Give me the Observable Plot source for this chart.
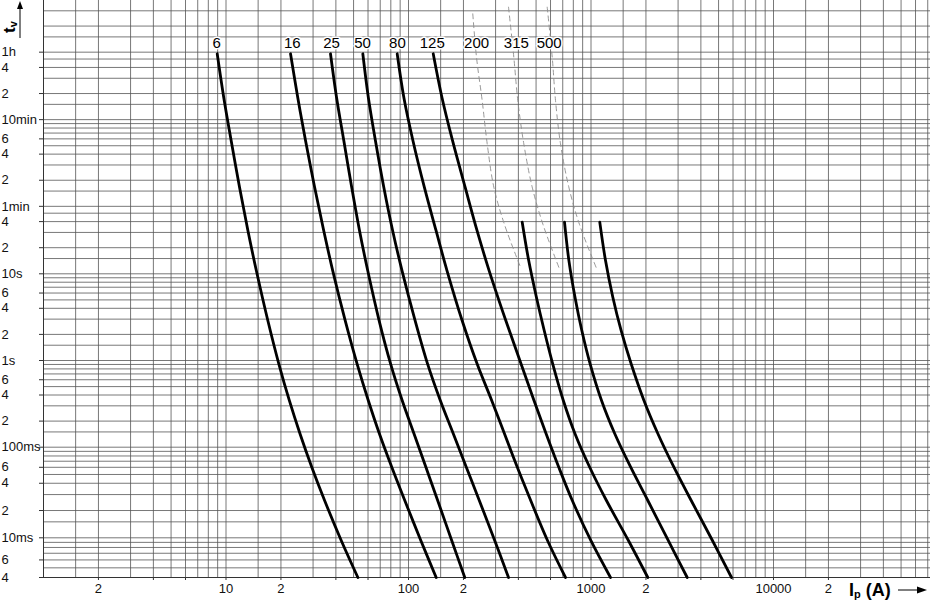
<!DOCTYPE html>
<html>
<head>
<meta charset="utf-8">
<script src="https://cdn.jsdelivr.net/npm/d3@7"></script>
<script src="https://cdn.jsdelivr.net/npm/@observablehq/plot@0.6"></script>
<style>
  html, body { margin: 0; padding: 0; background: #fff; overflow: hidden; }
  #chart svg { display: block; }
</style>
</head>
<body>
<div id="chart"></div>
<script>
// ---------------- data ----------------
const fuseRatings = ["6", "16", "25", "50", "80", "125", "200", "315", "500"];
const labelCurrent = [8.9, 23.1, 37.9, 56, 87, 135, 236, 390, 590]; // A, position of rating labels
const labelTime = 4530; // s

// solid characteristics: current (A) / time (s)
const I_6   = [8.95, 9.714, 10.67, 11.86, 13.18, 14.66, 16.95, 19.47, 22.23, 25.44, 29.52, 34.70, 42.79, 52.81];
const t_6   = [3450, 1089, 345, 99.7, 31.6, 10.9, 2.89, 0.916, 0.346, 0.143, 0.0601, 0.0258, 0.0094, 0.004];
const I_16  = [22.57, 24.71, 27.27, 30.59, 34.30, 38.43, 45.0, 52.28, 60.22, 69.29, 81.01, 95.43, 116.8, 141.8];
const t_16  = [3450, 1089, 345, 99.7, 31.6, 10.9, 2.89, 0.916, 0.346, 0.143, 0.0601, 0.0258, 0.0094, 0.004];
const I_25  = [37.37, 40.32, 44.20, 48.83, 53.88, 59.77, 69.02, 79.79, 92.36, 107.2, 124.6, 144.5, 172.5, 203.4];
const t_25  = [3450, 1089, 345, 99.7, 31.6, 10.9, 2.89, 0.916, 0.346, 0.143, 0.0601, 0.0258, 0.0094, 0.004];
const I_50  = [56.19, 60.22, 65.86, 73.22, 81.83, 92.13, 108.7, 127.2, 149.4, 176.0, 207.4, 244.3, 296.7, 353.2];
const t_50  = [3450, 1089, 345, 99.7, 31.6, 10.9, 2.89, 0.916, 0.346, 0.143, 0.0601, 0.0258, 0.0094, 0.004];
const I_80  = [86.70, 94.25, 105.7, 122.1, 141.5, 162.5, 196.7, 237.6, 285.7, 335.7, 394.7, 467.3, 577.7, 724.9];
const t_80  = [3450, 1089, 345, 99.7, 31.6, 10.9, 2.89, 0.916, 0.346, 0.143, 0.0601, 0.0258, 0.0094, 0.004];
const I_125 = [136.6, 152.4, 174.2, 204.3, 237.3, 276.5, 341.3, 413.5, 487.1, 567.6, 666.0, 789.7, 997.5, 1279];
const t_125 = [3450, 1089, 345, 99.7, 31.6, 10.9, 2.89, 0.916, 0.346, 0.143, 0.0601, 0.0258, 0.0094, 0.004];
const I_200 = [419.8, 455.7, 502.2, 554.1, 616.8, 705.1, 817.2, 983.7, 1215, 1603, 2048];
const t_200 = [39.4, 14.2, 5.37, 2.22, 0.916, 0.346, 0.143, 0.0601, 0.0258, 0.0094, 0.004];
const I_315 = [715.8, 756.7, 817.2, 890.5, 988.7, 1142, 1350, 1650, 2048, 2649, 3366];
const t_315 = [39.4, 14.2, 5.37, 2.22, 0.916, 0.346, 0.143, 0.0601, 0.0258, 0.0094, 0.004];
const I_500 = [1117, 1201, 1317, 1462, 1659, 1950, 2326, 2846, 3540, 4627, 5888];
const t_500 = [39.4, 14.2, 5.37, 2.22, 0.916, 0.346, 0.143, 0.0601, 0.0258, 0.0094, 0.004];

// dashed (grey) upper parts of 200 / 315 / 500
const Id_200 = [225, 235.8, 253.3, 269.9, 293.4, 335.7, 411];
const td_200 = [9970, 3150, 997, 316, 100, 37, 11.9];
const Id_315 = [353.2, 377.6, 397.1, 428.3, 476.2, 545.8, 666.2];
const td_315 = [11890, 3150, 997, 316, 100, 37, 11.9];
const Id_500 = [575.4, 613, 639, 680.7, 755.8, 865, 1066];
const td_500 = [11890, 3150, 997, 316, 100, 37, 11.9];

// axes (the printed time axis is slightly stretched below 100 ms and below 10 ms)
const xDomain = [1, 72480];
const yDomainStops = [0.004, 0.01, 0.1, 14200];
const yRangeStops = [577, 537.3, 446.7, 0];
const xTickValues = [2, 4, 6, 10, 20, 40, 60, 100, 200, 400, 600, 1000, 2000, 4000, 6000, 10000, 20000];
const xTickLabels = ["2", "4", "6", "10", "2", "4", "6", "100", "2", "4", "6", "1000", "2", "4", "6", "10000", "2"];
const yTickValues = [3600, 2400, 1200, 600, 360, 240, 120, 60, 40, 20, 10, 6, 4, 2, 1, 0.6, 0.4, 0.2, 0.1, 0.06, 0.04, 0.02, 0.01, 0.006, 0.004];
const yTickLabels = ["1h", "4", "2", "10min", "6", "4", "2", "1min", "4", "2", "10s", "6", "4", "2", "1s", "6", "4", "2", "100ms", "6", "4", "2", "10ms", "6", "4"];

const xGridMantissas = [1, 1.5, 2, 3, 4, 5, 6, 7, 8, 9];
const xGridDecades = [1, 10, 100, 1000, 10000];
const yGridMs = [0.005, 0.006, 0.007, 0.008, 0.009, 0.01, 0.015, 0.02, 0.03, 0.04, 0.05, 0.06, 0.07, 0.08, 0.09,
                 0.1, 0.15, 0.2, 0.3, 0.4, 0.5, 0.6, 0.7, 0.8, 0.9];
const yGridSec = [1, 1.5, 2, 3, 4, 5, 6, 7, 8, 9, 10, 15, 20, 30, 40, 50];
const yGridMin = [1, 1.5, 2, 3, 4, 5, 6, 7, 8, 9, 10, 15, 20, 30, 40, 50];
const yGridHour = [1, 1.5, 2, 3];

// ---------------- build tables ----------------
const solid = [
  ["6", I_6, t_6], ["16", I_16, t_16], ["25", I_25, t_25], ["50", I_50, t_50], ["80", I_80, t_80],
  ["125", I_125, t_125], ["200", I_200, t_200], ["315", I_315, t_315], ["500", I_500, t_500]
].flatMap(([f, I, t]) => I.map((v, i) => ({fuse: f, I: v, t: t[i]})));
const dashed = [["200", Id_200, td_200], ["315", Id_315, td_315], ["500", Id_500, td_500]]
  .flatMap(([f, I, t]) => I.map((v, i) => ({fuse: f, I: v, t: t[i]})));

const xGrid = xGridDecades.flatMap(d => xGridMantissas.map(m => m * d)).filter(v => v > xDomain[0] && v <= xDomain[1]);
const yGrid = [...yGridMs, ...yGridSec, ...yGridMin.map(m => m * 60), ...yGridHour.map(h => h * 3600)];
const xLabelMap = new Map(xTickValues.map((v, i) => [v, xTickLabels[i]]));
const yLabelMap = new Map(yTickValues.map((v, i) => [v, yTickLabels[i]]));

const gridColor = "#555";
const FONT = "'Liberation Sans', Arial, sans-serif";

const svg = Plot.plot({
  width: 930,
  height: 600,
  marginLeft: 43,
  marginRight: 0,
  marginTop: 0,
  marginBottom: 23,
  style: {fontFamily: FONT, fontSize: "13px", color: "#111", background: "#fff"},
  x: {type: "log", domain: xDomain},
  y: {type: "log", domain: yDomainStops, range: yRangeStops},
  marks: [
    Plot.ruleX(xGrid, {stroke: gridColor, strokeWidth: 0.8}),
    Plot.ruleY(yGrid, {stroke: gridColor, strokeWidth: 0.8}),
    Plot.ruleX([xDomain[0]], {stroke: "#333", strokeWidth: 1}),
    Plot.ruleY([yDomainStops[0]], {stroke: "#333", strokeWidth: 1}),
    Plot.axisX({ticks: xTickValues, tickFormat: d => xLabelMap.get(d), tickSize: 3, tickPadding: 3, label: null, fontSize: 13, stroke: "#333"}),
    Plot.axisY({ticks: yTickValues, tickFormat: () => "", tickSize: 4, label: null, stroke: "#333"}),
    Plot.text(yTickValues, {y: d => d, text: d => yLabelMap.get(d), frameAnchor: "left", textAnchor: "start", dx: -42, fontSize: 13, fill: "#111"}),
    Plot.line(dashed, {x: "I", y: "t", z: "fuse", stroke: "#8c8c8c", strokeWidth: 0.9, strokeDasharray: "5,4", curve: "catmull-rom"}),
    Plot.line(solid, {x: "I", y: "t", z: "fuse", stroke: "#000", strokeWidth: 2.8, curve: "catmull-rom"}),
    Plot.text(fuseRatings, {x: (d, i) => labelCurrent[i], y: () => labelTime, text: d => d, fontSize: 15, fill: "#000", stroke: "#fff", strokeWidth: 3})
  ]
});

document.getElementById("chart").appendChild(svg);

// axis titles (tv ↑ and Ip (A) →)
const s = d3.select(svg);
const yt = s.append("text")
  .attr("transform", "translate(15,33) rotate(-90)")
  .attr("text-anchor", "start")
  .attr("font-family", FONT)
  .attr("font-weight", "bold")
  .attr("fill", "#000");
yt.append("tspan").attr("font-size", 17).text("t");
yt.append("tspan").attr("font-size", 11).attr("dy", 2).text("v");
s.append("line").attr("x1", 20).attr("x2", 20).attr("y1", 38).attr("y2", 7).attr("stroke", "#000").attr("stroke-width", 1);
s.append("path").attr("d", "M20,1 L17,9 L23,9 Z").attr("fill", "#000");

const xt = s.append("text")
  .attr("x", 849).attr("y", 596)
  .attr("text-anchor", "start")
  .attr("font-family", FONT)
  .attr("font-weight", "bold")
  .attr("fill", "#000");
xt.append("tspan").attr("font-size", 18).text("I");
xt.append("tspan").attr("font-size", 11).attr("dy", 1.5).text("p");
xt.append("tspan").attr("font-size", 18).attr("dy", -1.5).text(" (A)");
s.append("line").attr("x1", 898).attr("x2", 920).attr("y1", 590).attr("y2", 590).attr("stroke", "#000").attr("stroke-width", 1);
s.append("path").attr("d", "M927,590 L917,586.5 L917,593.5 Z").attr("fill", "#000");
</script>
</body>
</html>
